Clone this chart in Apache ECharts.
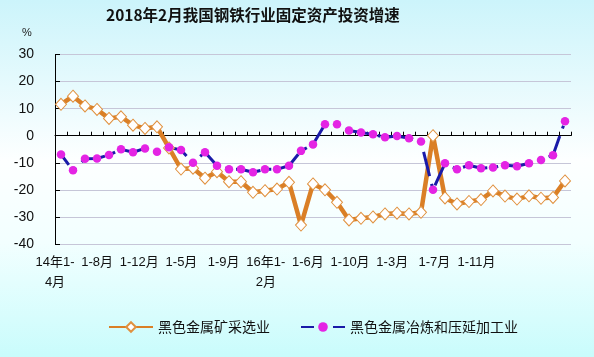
<!DOCTYPE html>
<html>
<head>
<meta charset="utf-8">
<script src="https://cdn.jsdelivr.net/npm/echarts@6/dist/echarts.min.js"></script>
<style>
html,body{margin:0;padding:0;}
#c{width:594px;height:357px;}
</style>
</head>
<body>
<div id="c"></div>
<script>
var categories = [
  "14年1-4月","1-5月","1-6月","1-7月","1-8月","1-9月","1-10月","1-11月","1-12月",
  "15年1-2月","1-3月","1-4月","1-5月","1-6月","1-7月","1-8月","1-9月","1-10月","1-11月","1-12月",
  "16年1-2月","1-3月","1-4月","1-5月","1-6月","1-7月","1-8月","1-9月","1-10月","1-11月","1-12月",
  "17年1-2月","1-3月","1-4月","1-5月","1-6月","1-7月","1-8月","1-9月","1-10月","1-11月","1-12月",
  "18年1-2月"
];
var miningValues = [
  11.6,14.6,11.0,9.7,6.4,7.0,3.9,2.7,3.3,
  -4.5,-12.3,-12.0,-15.7,-13.3,-17.0,-17.0,-20.9,-20.3,-19.7,-17.2,
  -33.0,-17.8,-20.0,-24.6,-31.1,-30.5,-30.0,-28.9,-28.6,-28.9,-28.3,
  0.0,-23.0,-25.2,-24.3,-23.6,-20.4,-22.3,-23.4,-22.2,-23.1,-22.8,
  -16.7
];
var smeltingValues = [
  -6.9,-12.8,-8.5,-8.4,-7.1,-5.0,-6.1,-4.7,-5.9,
  -4.3,-5.3,-10.0,-6.1,-11.1,-12.4,-12.4,-13.5,-12.4,-12.4,-11.1,
  -5.6,-3.2,4.2,4.2,1.9,1.2,0.5,-0.6,-0.1,-0.9,-2.1,
  -20.0,-10.2,-12.4,-10.9,-12.0,-11.7,-10.9,-11.3,-10.2,-9.0,-7.2,
  5.3
];
var tickLabels = ["14年1-\n4月","1-8月","1-12月","1-5月","1-9月","16年1-\n2月","1-6月","1-10月","1-3月","1-7月","1-11月"];
var seriesNames = ["黑色金属矿采选业","黑色金属冶炼和压延加工业"];
var titleText = "2018年2月我国钢铁行业固定资产投资增速";

var FONT = "'Liberation Sans','Noto Sans CJK SC',sans-serif";
var chart = echarts.init(document.getElementById('c'), null, {renderer:'canvas'});
chart.setOption({
  animation:false,
  backgroundColor:{
    type:'linear',x:0,y:0,x2:0,y2:1,
    colorStops:[
      {offset:0,color:'#CCF4FB'},
      {offset:0.45,color:'#FDFFFF'},
      {offset:0.68,color:'#F2FFFF'},
      {offset:1,color:'#C9FCFC'}
    ]
  },
  title:[
    {text:titleText,left:101,top:2,textStyle:{fontFamily:"'Noto Sans CJK SC',sans-serif",fontSize:15.5,fontWeight:'bold',color:'#111'}},
    {text:'%',left:17,top:22,textStyle:{fontFamily:FONT,fontSize:11,fontWeight:'normal',color:'#222'}}
  ],
  legend:{
    left:103,top:315,itemWidth:44,itemHeight:12,itemGap:30,
    textStyle:{fontFamily:"'Noto Sans CJK SC',sans-serif",fontSize:14,color:'#111'},
    data:seriesNames
  },
  grid:{left:55,right:23,top:54.5,bottom:113,containLabel:false},
  xAxis:[
    {
      type:'category',data:categories,boundaryGap:true,position:'bottom',
      axisLine:{onZero:true,lineStyle:{color:'#000',width:1}},
      axisTick:{show:true,inside:true,length:4,interval:0,lineStyle:{color:'#000'}},
      axisLabel:{show:false},splitLine:{show:false}
    },
    {
      type:'value',min:0,max:12.24,interval:1,position:'bottom',
      axisLine:{show:false,onZero:false},axisTick:{show:false},splitLine:{show:false},
      axisLabel:{
        show:true,margin:8,fontFamily:FONT,fontSize:13,lineHeight:20,color:'#111',
        showMaxLabel:false,
        formatter:function(v){var k=Math.round(v);return (Math.abs(v-k)<1e-6 && k<tickLabels.length)?tickLabels[k]:'';}
      }
    }
  ],
  yAxis:{
    type:'value',min:-40,max:30,interval:10,
    axisLine:{show:true,lineStyle:{color:'#000',width:1}},
    axisTick:{show:true,inside:true,length:5,lineStyle:{color:'#000'}},
    axisLabel:{margin:21,fontFamily:FONT,fontSize:14,color:'#111'},
    splitLine:{show:true,lineStyle:{color:'#C6C6D8',width:1}}
  },
  series:[
    {
      name:seriesNames[0],type:'line',data:miningValues,xAxisIndex:0,
      symbol:'diamond',symbolSize:[11,12],showAllSymbol:true,
      lineStyle:{color:'#DA7F26',width:4.5},
      itemStyle:{color:'#FFFFFF',borderColor:'#E0913F',borderWidth:1}
    },
    {
      name:seriesNames[1],type:'line',data:smeltingValues,xAxisIndex:0,
      symbol:'circle',symbolSize:8.5,showAllSymbol:true,
      lineStyle:{color:'#1A1AA8',width:3,type:[25,8,3,8],dashOffset:12},
      itemStyle:{color:'#E424E4',borderWidth:0}
    }
  ]
});
</script>
</body>
</html>
